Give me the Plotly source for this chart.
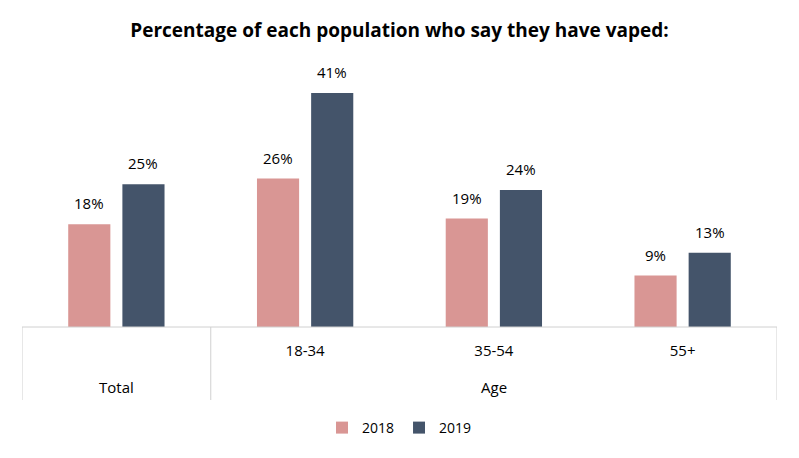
import plotly.graph_objects as go

categories = ["Total", "18-34", "35-54", "55+"]
tick_labels = ["", "18-34", "35-54", "55+"]
group_labels = ["Total", "Age"]
group_centers = ["Total", "35-54"]
series_names = ["2018", "2019"]
values_2018 = [18, 26, 19, 9]
values_2019 = [25, 41, 24, 13]
colors = ["#D99694", "#44546A"]

FONT = "Open Sans"
OFF = 8  # default page body margin
W, H = 799 - OFF, 458 - OFF

fig = go.Figure()
for name, vals, col in zip(series_names, [values_2018, values_2019], colors):
    fig.add_trace(go.Bar(
        x=categories, y=vals, name=name, marker=dict(color=col, line=dict(width=0)),
    ))

top, bottom = 60 - OFF, 327 - OFF
plot_h = bottom - top

def py(pix):
    return (bottom - (pix - OFF)) / plot_h

line = dict(color="#D0D0D0", width=1)
shapes = [
    dict(type="line", xref="x", yref="paper", x0=-0.5, x1=3.5, y0=0, y1=0, line=line),
]
for xv in [-0.5, 0.5, 3.5]:
    shapes.append(dict(type="line", xref="x", yref="paper", x0=xv, x1=xv, y0=0, y1=py(400), line=line))

annotations = [
    dict(x=c, y=py(387), xref="x", yref="paper", text=t, showarrow=False,
         font=dict(size=15, color="#000000", family=FONT), yanchor="middle")
    for t, c in zip(group_labels, group_centers)
]
for shift, vals in zip([-27, 27], [values_2018, values_2019]):
    for c, v in zip(categories, vals):
        annotations.append(dict(x=c, y=v, xref="x", yref="y", text=f"{v}%", showarrow=False,
                                xshift=shift, yshift=21, yanchor="middle",
                                font=dict(size=15, color="#000000", family=FONT)))

fig.update_layout(
    width=W, height=H,
    margin=dict(l=22 - OFF, r=22, t=top, b=H - bottom),
    paper_bgcolor="white", plot_bgcolor="white",
    title=dict(text="<b>Percentage of each population who say they have vaped:</b>",
               x=0.5, xanchor="center", xref="paper", y=1 - (30 - OFF) / H, yanchor="middle",
               font=dict(size=19, color="#000000", family=FONT)),
    barmode="group", bargap=0.426, bargroupgap=0.222,
    xaxis=dict(categoryorder="array", categoryarray=categories,
               tickmode="array", tickvals=categories, ticktext=tick_labels,
               ticks="", showline=False, showgrid=False, zeroline=False,
               tickfont=dict(size=15, color="#000000", family=FONT),
               ticklabelstandoff=13, range=[-0.5, 3.5]),
    yaxis=dict(range=[0, plot_h / 5.71], visible=False, showgrid=False, zeroline=False),
    shapes=shapes, annotations=annotations,
    legend=dict(orientation="h", x=0.5, xanchor="center", y=py(428), yanchor="middle",
                font=dict(size=14, color="#000000", family=FONT), traceorder="normal",
                itemwidth=30),
    font=dict(family=FONT),
)

fig.write_html("out.html")
